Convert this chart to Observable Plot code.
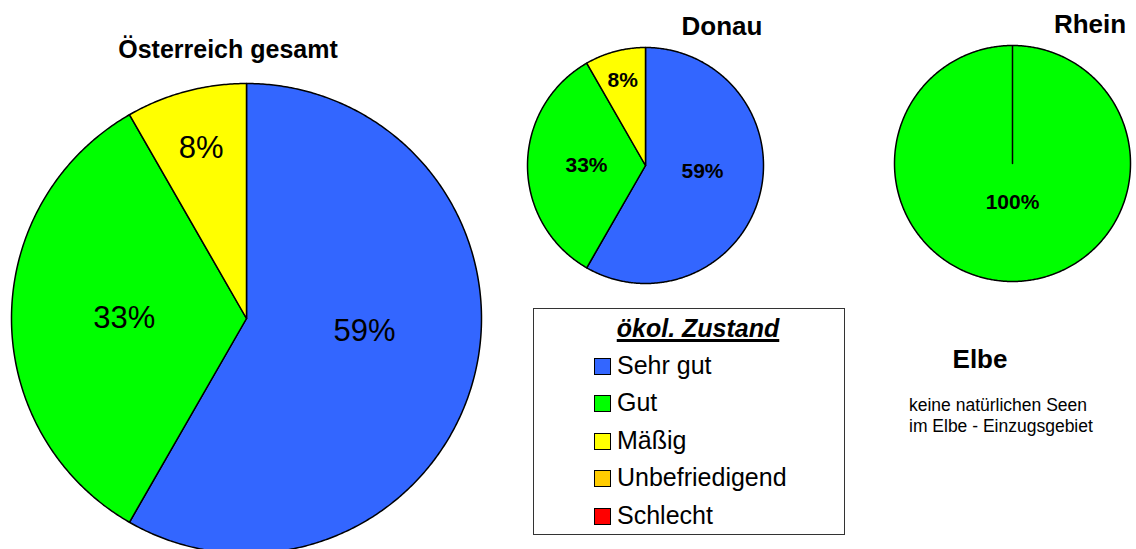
<!DOCTYPE html>
<html>
<head>
<meta charset="utf-8">
<script src="https://cdn.jsdelivr.net/npm/d3@7"></script>
<script src="https://cdn.jsdelivr.net/npm/@observablehq/plot@0.6"></script>
<style>
  html, body { margin: 0; padding: 0; background: #fff; overflow: hidden; }
  #root { position: relative; width: 1136px; height: 549px; overflow: hidden; background: #fff;
          font-family: "Liberation Sans", Arial, sans-serif; color: #000; }
  .abs { position: absolute; white-space: nowrap; }
  .title { font-weight: bold; font-size: 26px; line-height: 26px; transform: translateX(-50%); }
  .legend { position: absolute; box-sizing: border-box; border: 1.5px solid #333; background: #fff; }
  .sw { position: absolute; box-sizing: border-box; width: 17px; height: 17px; border: 1.5px solid #000; }
  .item { position: absolute; font-size: 25px; line-height: 25px; }
</style>
</head>
<body>
<div id="root"></div>
<script>
// ---------------- data ----------------
const categories = ["Sehr gut", "Gut", "Mäßig", "Unbefriedigend", "Schlecht"];
const colors = ["#3366FF", "#00FF00", "#FFFF00", "#FFCC00", "#FF0000"];

const oesterreichValues = [58.3, 33.4, 8.3, 0, 0];
const oesterreichLabels = ["59%", "33%", "8%", "", ""];

const donauValues = [58.3, 33.4, 8.3, 0, 0];
const donauLabels = ["59%", "33%", "8%", "", ""];

const rheinValues = [0, 100, 0, 0, 0];
const rheinLabels = ["", "100%", "", "", ""];

const legendTitle = "ökol. Zustand";
const elbeTitle = "Elbe";
const elbeNote = ["keine natürlichen Seen", "im Elbe - Einzugsgebiet"];

// ---------------- helpers ----------------
const root = document.getElementById("root");

function slicesOf(values, labels) {
  const total = d3.sum(values);
  let acc = 0;
  const out = [];
  values.forEach((v, i) => {
    const a0 = acc / total * 2 * Math.PI;
    acc += v;
    const a1 = acc / total * 2 * Math.PI;
    if (v > 0) out.push({key: categories[i], a0, a1, frac: v / total, label: labels[i]});
  });
  return out;
}

function piePlot(values, labels, radius, fontSize, fontWeight, bigR) {
  const m = 2;
  const size = 2 * radius + 2 * m;
  const sl = slicesOf(values, labels);
  const pts = [];
  for (const s of sl) {
    pts.push({key: s.key, x: 0, y: 0});
    const n = Math.max(2, Math.ceil((s.a1 - s.a0) / (Math.PI / 360)));
    for (let k = 0; k <= n; k++) {
      const a = s.a0 + (s.a1 - s.a0) * k / n;
      pts.push({key: s.key, x: Math.sin(a), y: Math.cos(a)});
    }
    pts.push({key: s.key, x: 0, y: 0});
  }
  const lab = sl.map(s => {
    const mid = (s.a0 + s.a1) / 2;
    if (s.frac >= 0.999) return {x: 0, y: -0.33, text: s.label};
    if (s.frac < 0.15) return {x: 0.75 * Math.sin(mid), y: 0.75 * Math.cos(mid), text: s.label};
    return {x: bigR * Math.sin(mid), y: bigR * Math.cos(mid) * 0.4, text: s.label};
  });
  return Plot.plot({
    width: size, height: size,
    margin: m,
    x: {domain: [-1, 1], axis: null},
    y: {domain: [-1, 1], axis: null},
    color: {domain: categories, range: colors},
    style: {background: "transparent", overflow: "visible", fontFamily: "Liberation Sans, Arial, sans-serif"},
    marks: [
      Plot.line(pts, {x: "x", y: "y", z: "key", fill: "key", stroke: "black", strokeWidth: 1.5, strokeLinejoin: "round"}),
      Plot.text(lab, {x: "x", y: "y", text: "text", fill: "black", fontSize, fontWeight})
    ]
  });
}

function place(el, left, top) {
  const w = document.createElement("div");
  w.className = "abs";
  w.style.left = left + "px";
  w.style.top = top + "px";
  w.appendChild(el);
  root.appendChild(w);
  return w;
}

function text(str, cls, left, top, extra) {
  const d = document.createElement("div");
  d.className = "abs " + (cls || "");
  d.textContent = str;
  d.style.left = left + "px";
  d.style.top = top + "px";
  if (extra) Object.assign(d.style, extra);
  root.appendChild(d);
  return d;
}

// ---------------- pies ----------------
place(piePlot(oesterreichValues, oesterreichLabels, 235, 31, "normal", 0.52), 246 - 237, 318 - 237);
place(piePlot(donauValues, donauLabels, 118, 21, "bold", 0.5), 645 - 120, 165 - 120);
place(piePlot(rheinValues, rheinLabels, 118, 21, "bold", 0.5), 1012 - 120, 163 - 120);

// ---------------- titles ----------------
text("Österreich gesamt", "title", 228, 37, {fontSize: "25px", lineHeight: "25px"});
text("Donau", "title", 722, 13);
text("Rhein", "title", 1090, 11);
text(elbeTitle, "title", 980, 346);
elbeNote.forEach((t, i) => text(t, "", 909, 395 + i * 21, {fontSize: "17.5px", lineHeight: "21px"}));

// ---------------- legend ----------------
const lg = document.createElement("div");
lg.className = "legend";
Object.assign(lg.style, {left: "533px", top: "308px", width: "312px", height: "227px"});
root.appendChild(lg);
text(legendTitle, "", 698, 316, {
  fontSize: "25px", lineHeight: "25px", fontWeight: "bold", fontStyle: "italic",
  textDecoration: "underline", textDecorationThickness: "2.5px", transform: "translateX(-50%)"
});
categories.forEach((c, i) => {
  const cy = 366 + i * 37.5;
  const sw = document.createElement("div");
  sw.className = "sw";
  sw.style.left = "594px";
  sw.style.top = (cy - 8.5) + "px";
  sw.style.background = colors[i];
  root.appendChild(sw);
  text(c, "item", 617, cy + 8 - 21.2);
});
</script>
</body>
</html>
